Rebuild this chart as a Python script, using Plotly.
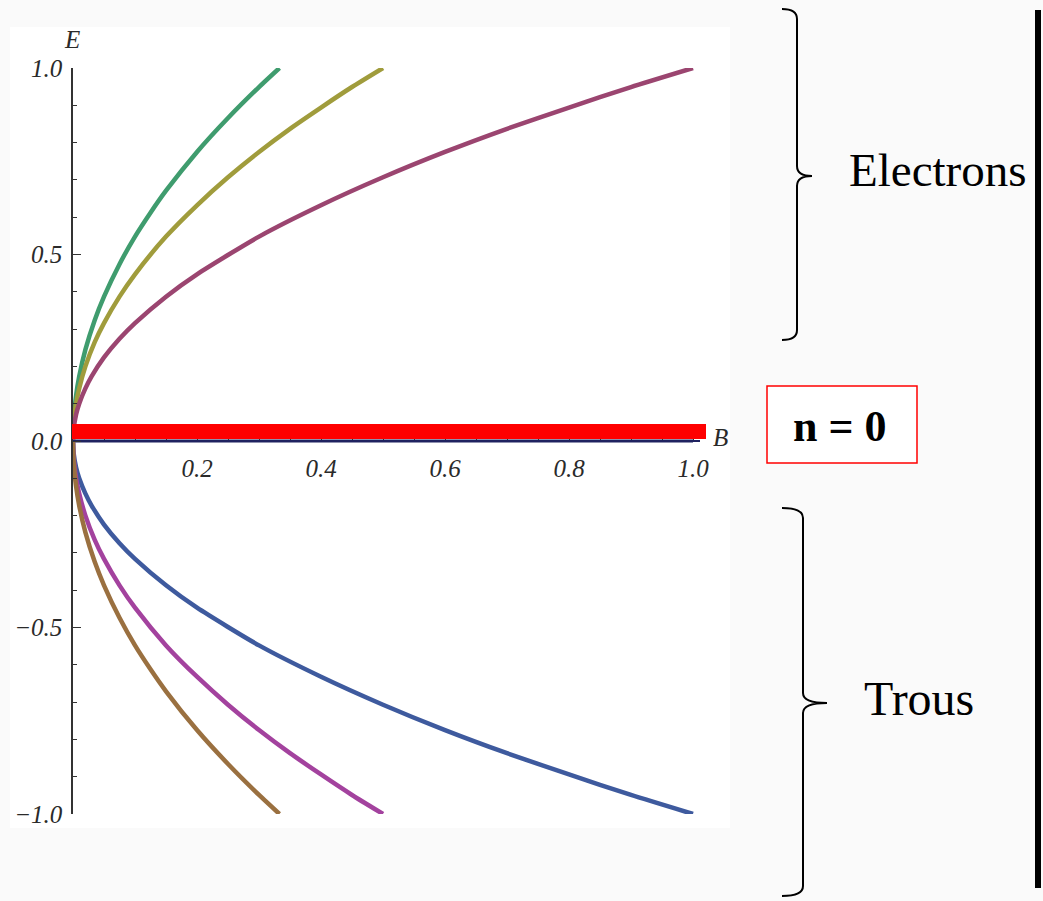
import plotly.graph_objects as go

# Landau levels E(B) for n = 1, 2, 3 (electrons above, holes below) and the n = 0 level
B_n1 = [0, 0.001, 0.005, 0.01, 0.02, 0.03, 0.05, 0.075, 0.1, 0.15, 0.2, 0.3, 0.4, 0.5, 0.6, 0.7, 0.8, 0.9, 1.0]
E_elec_n1 = [0, 0.032, 0.071, 0.1, 0.141, 0.173, 0.224, 0.274, 0.316, 0.387, 0.447, 0.548, 0.632, 0.707, 0.775, 0.837, 0.894, 0.949, 1.0]
E_hole_n1 = [0, -0.032, -0.071, -0.1, -0.141, -0.173, -0.224, -0.274, -0.316, -0.387, -0.447, -0.548, -0.632, -0.707, -0.775, -0.837, -0.894, -0.949, -1.0]

B_n2 = [0, 0.001, 0.005, 0.01, 0.02, 0.035, 0.05, 0.075, 0.1, 0.15, 0.2, 0.25, 0.3, 0.35, 0.4, 0.45, 0.5]
E_elec_n2 = [0, 0.045, 0.1, 0.141, 0.2, 0.265, 0.316, 0.387, 0.447, 0.548, 0.632, 0.707, 0.775, 0.837, 0.894, 0.949, 1.0]
E_hole_n2 = [0, -0.045, -0.1, -0.141, -0.2, -0.265, -0.316, -0.387, -0.447, -0.548, -0.632, -0.707, -0.775, -0.837, -0.894, -0.949, -1.0]

B_n3 = [0, 0.001, 0.005, 0.01, 0.02, 0.035, 0.05, 0.075, 0.1, 0.125, 0.15, 0.2, 0.25, 0.3, 0.333]
E_elec_n3 = [0, 0.055, 0.122, 0.173, 0.245, 0.324, 0.387, 0.474, 0.548, 0.612, 0.671, 0.775, 0.866, 0.949, 1.0]
E_hole_n3 = [0, -0.055, -0.122, -0.173, -0.245, -0.324, -0.387, -0.474, -0.548, -0.612, -0.671, -0.775, -0.866, -0.949, -1.0]

B_n0 = [0, 1.0]
E_n0 = [0, 0]

y_tickvals = [-1.0, -0.5, 0.0, 0.5, 1.0]
y_ticktext = ["\u22121.0", "\u22120.5", "0.0", "0.5", "1.0"]
x_tickvals = [0.2, 0.4, 0.6, 0.8, 1.0]
x_ticktext = ["0.2", "0.4", "0.6", "0.8", "1.0"]

curves = [
    (B_n1, E_hole_n1, "#3e5a9e"),
    (B_n2, E_hole_n2, "#a3429e"),
    (B_n3, E_hole_n3, "#9a7040"),
    (B_n3, E_elec_n3, "#3f9c6e"),
    (B_n2, E_elec_n2, "#a09c3c"),
    (B_n1, E_elec_n1, "#9b4570"),
]

# page geometry (pixels) of the plotting area: E from -1 to 1, B from 0 to ~1.01
WIDTH, HEIGHT = 1043, 901
L, T, W, H = 73, 68, 627, 746


def px(x):
    return (x - L) / W


def py(y):
    return (T + H - y) / H


fig = go.Figure()

fig.add_trace(go.Scatter(x=B_n0, y=E_n0, mode="lines", cliponaxis=False,
                         line=dict(color="#1f2260", width=3),
                         showlegend=False, hoverinfo="skip"))

for bx, ey, col in curves:
    fig.add_trace(go.Scatter(x=bx, y=ey, mode="lines", cliponaxis=False,
                             line=dict(color=col, width=4.5, shape="spline", smoothing=0.6),
                             showlegend=False))

tick_font = dict(family="Liberation Serif", size=25, color="#2a2a2a", style="italic")

fig.update_layout(
    width=WIDTH, height=HEIGHT,
    margin=dict(l=L, r=WIDTH - L - W, t=T, b=HEIGHT - T - H),
    paper_bgcolor="#fafafa",
    plot_bgcolor="rgba(0,0,0,0)",
    showlegend=False,
    xaxis=dict(
        range=[0, W / 620], anchor="free", position=0.5,
        showgrid=False, zeroline=False,
        showline=True, linecolor="#1f2260", linewidth=2,
        ticks="inside", ticklen=8, tickcolor="#333333", tickwidth=1,
        tickvals=x_tickvals, ticktext=x_ticktext,
        minor=dict(dtick=0.05, ticks="inside", ticklen=4, tickcolor="#333333"),
        tickfont=tick_font, ticklabelstandoff=5,
    ),
    yaxis=dict(
        range=[-1.0, 1.0],
        showgrid=False, zeroline=False,
        showline=True, linecolor="#333333", linewidth=1.5,
        ticks="inside", ticklen=8, tickcolor="#333333", tickwidth=1,
        tickvals=y_tickvals, ticktext=y_ticktext,
        minor=dict(dtick=0.1, ticks="inside", ticklen=4, tickcolor="#333333"),
        tickfont=tick_font, ticklabelstandoff=4,
    ),
)

shapes = []
# white panel behind the graph
shapes.append(dict(type="rect", xref="paper", yref="paper", layer="below",
                   x0=px(10), x1=px(730), y0=py(828), y1=py(27),
                   fillcolor="white", line=dict(width=0)))
# red bar marking the n = 0 level
shapes.append(dict(type="rect", xref="paper", yref="paper", layer="above",
                   x0=px(72), x1=px(706), y0=py(439), y1=py(424),
                   fillcolor="#ff0000", line=dict(width=0)))
# box around the n = 0 label
shapes.append(dict(type="rect", xref="paper", yref="paper",
                   x0=px(767), x1=px(917), y0=py(463), y1=py(386),
                   fillcolor="white", line=dict(color="#ff0000", width=1.5)))
# thick vertical rule on the right
shapes.append(dict(type="line", xref="paper", yref="paper",
                   x0=px(1038), x1=px(1038), y0=py(888), y1=py(10),
                   line=dict(color="black", width=6)))


def brace(x_end, x_mid, x_tip, y_top, y_tip, y_bot):
    r = 10
    pts = [
        f"M {px(x_end)} {py(y_top)}",
        f"Q {px(x_mid)} {py(y_top)} {px(x_mid)} {py(y_top + r)}",
        f"L {px(x_mid)} {py(y_tip - r)}",
        f"Q {px(x_mid)} {py(y_tip)} {px(x_tip)} {py(y_tip)}",
        f"Q {px(x_mid)} {py(y_tip)} {px(x_mid)} {py(y_tip + r)}",
        f"L {px(x_mid)} {py(y_bot - r)}",
        f"Q {px(x_mid)} {py(y_bot)} {px(x_end)} {py(y_bot)}",
    ]
    return dict(type="path", xref="paper", yref="paper", path=" ".join(pts),
                line=dict(color="black", width=2))


shapes.append(brace(782, 797, 812, 9, 176, 340))
shapes.append(brace(782, 803, 827, 508, 703, 896))
fig.update_layout(shapes=shapes)

label_font = dict(family="Liberation Serif", size=25, color="#2a2a2a", style="italic")
annotations = [
    dict(text="E", x=px(72), y=py(39), font=label_font),
    dict(text="B", x=px(720), y=py(437), font=label_font),
    dict(text="Electrons", x=px(847), y=py(170), xanchor="left",
         font=dict(family="Liberation Serif", size=47, color="black")),
    dict(text="Trous", x=px(862), y=py(698), xanchor="left",
         font=dict(family="Liberation Serif", size=48, color="black")),
    dict(text="<b>n = 0</b>", x=px(840), y=py(426),
         font=dict(family="Liberation Serif", size=44, color="black")),
]
for a in annotations:
    a.setdefault("xanchor", "center")
    a.setdefault("yanchor", "middle")
    a.update(xref="paper", yref="paper", showarrow=False)
fig.update_layout(annotations=annotations)

fig.write_html("out.html")
